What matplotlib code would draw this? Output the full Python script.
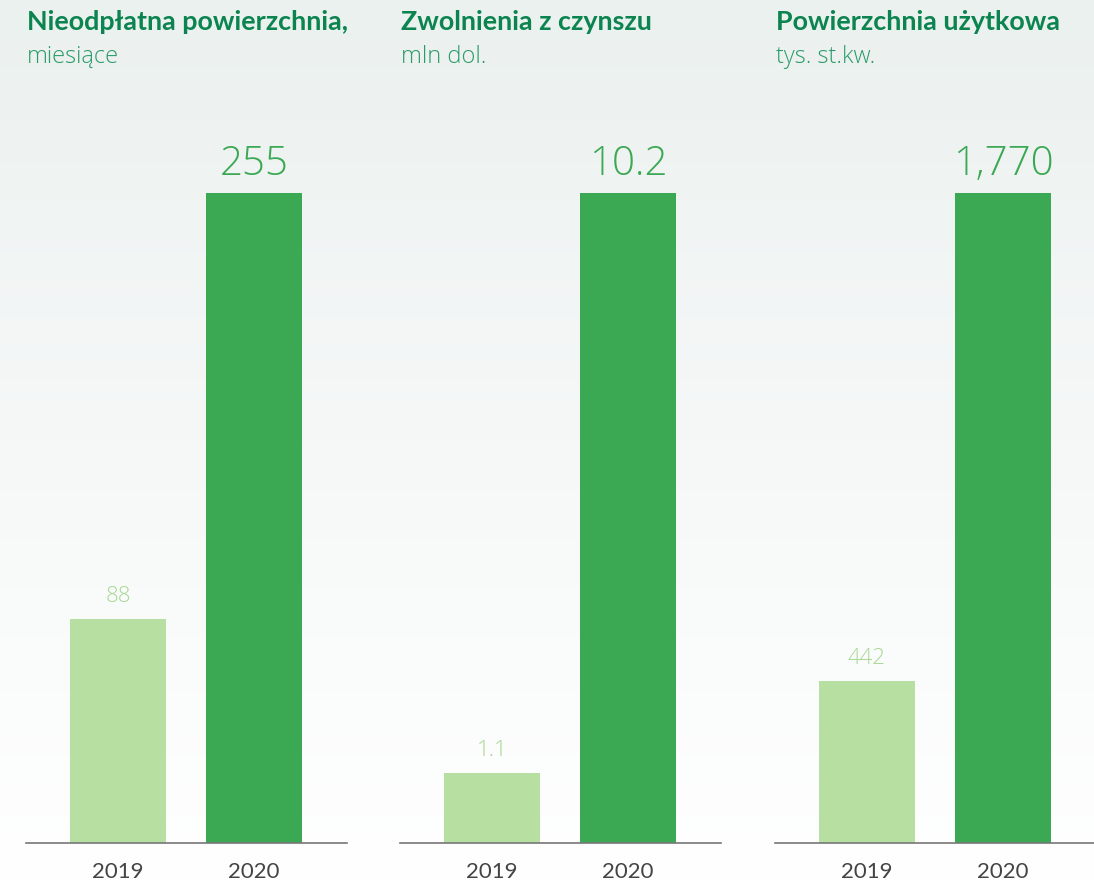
import numpy as np
import matplotlib.pyplot as plt
from matplotlib.colors import LinearSegmentedColormap

# dane
years = ["2019", "2020"]
titles = ["Nieodpłatna powierzchnia,", "Zwolnienia z czynszu", "Powierzchnia użytkowa"]
subtitles = ["miesiące", "mln dol.", "tys. st.kw."]
free_space = [88, 255]
rent_relief = [1.1, 10.2]
usable_area = [442, 1770]
value_labels = [["88", "255"], ["1.1", "10.2"], ["442", "1,770"]]

panels = [free_space, rent_relief, usable_area]

light = "#B8DFA2"
dark = "#3BA853"
title_col = "#0C8450"
sub_col = "#2A9C68"

plt.rcParams['font.family'] = ['Lato', 'DejaVu Sans']
thin = ['Open Sans', 'DejaVu Sans']

W, H = 1094, 883
fig = plt.figure(figsize=(W / 100, H / 100), dpi=100)

# tło z gradientem
bg = fig.add_axes([0, 0, 1, 1], zorder=-10)
cmap = LinearSegmentedColormap.from_list("bg", ["#EBF1EF", "#F6F8F8", "#FFFFFF"])
bg.imshow(np.linspace(0, 1, 256).reshape(-1, 1), aspect="auto", cmap=cmap,
          extent=[0, 1, 0, 1])
bg.axis("off")

lefts = [26, 400, 775]
ax_w = 321
for i, vals in enumerate(panels):
    ax = fig.add_axes([lefts[i] / W, 40 / H, ax_w / W, 650 / H])
    ax.patch.set_alpha(0)
    x = np.arange(len(years))
    ax.bar(x, vals, width=96 / 136, color=[light, dark])
    ax.set_xlim(-92 / 136, (ax_w - 92) / 136)
    ax.set_ylim(0, max(vals))
    ax.set_xticks(x)
    ax.set_xticklabels(years, fontsize=16, color="#444444")
    ax.tick_params(axis="x", length=0, pad=14)
    ax.set_yticks([])
    for s in ["top", "left", "right"]:
        ax.spines[s].set_visible(False)
    ax.spines["bottom"].set_color("#777777")
    ax.spines["bottom"].set_linewidth(1.2)
    # etykiety wartości
    ax.annotate(value_labels[i][0], (x[0], vals[0]), xytext=(0, 12),
                textcoords="offset points", ha="center", va="baseline",
                fontsize=16, color="#A9D895", family=thin, fontweight="light")
    ax.annotate(value_labels[i][1], (x[1], vals[1]), xytext=(0, 13),
                textcoords="offset points", ha="center", va="baseline",
                fontsize=29, color=dark, family=thin, fontweight="light")
    fig.text((lefts[i] + 1) / W, 1 - 30 / H, titles[i], fontsize=19.4,
             fontweight="bold", color=title_col, va="baseline")
    fig.text((lefts[i] + 1) / W, 1 - 63 / H, subtitles[i], fontsize=17,
             color=sub_col, va="baseline", family=thin, fontweight="light")

fig.savefig("out.png", dpi=100)
